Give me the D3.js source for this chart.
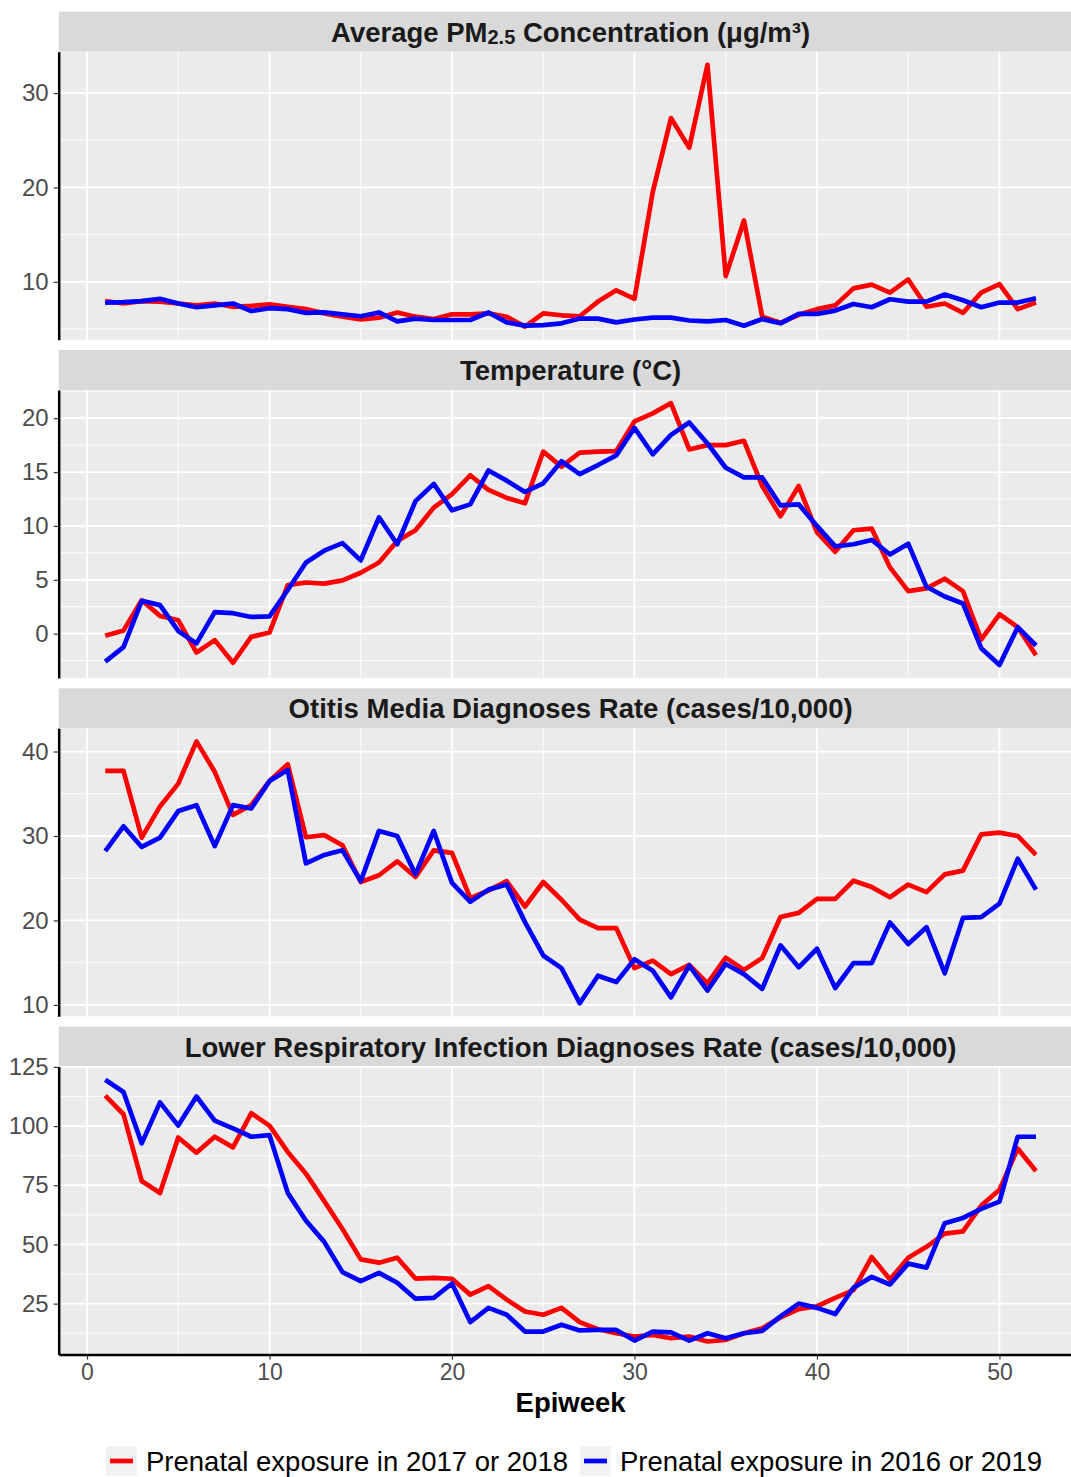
<!DOCTYPE html>
<html>
<head>
<meta charset="utf-8">
<script src="https://cdn.jsdelivr.net/npm/d3@7"></script>
<style>
  body { margin: 0; background: #fff; }
  text { font-family: "Liberation Sans", Arial, sans-serif; }
</style>
</head>
<body>
<div id="chart"></div>
<script>
// ---- data ----------------------------------------------------------------
const weeks = [1, 2, 3, 4, 5, 6, 7, 8, 9, 10, 11, 12, 13, 14, 15, 16, 17, 18, 19, 20,
  21, 22, 23, 24, 25, 26, 27, 28, 29, 30, 31, 32, 33, 34, 35, 36, 37, 38, 39, 40,
  41, 42, 43, 44, 45, 46, 47, 48, 49, 50, 51, 52];

const seriesNames = ["Prenatal exposure in 2017 or 2018", "Prenatal exposure in 2016 or 2019"];

const pm25Red = [7.95, 7.7, 7.95, 7.9, 7.7, 7.5, 7.7, 7.35, 7.45, 7.6,
  7.35, 7.1, 6.65, 6.3, 6.0, 6.2, 6.75, 6.3, 6.05, 6.55,
  6.55, 6.65, 6.3, 5.25, 6.65, 6.45, 6.35, 7.9, 9.1, 8.2,
  19.5, 27.35, 24.2, 33.0, 10.6, 16.5, 6.3, 5.65, 6.5, 7.1,
  7.5, 9.3, 9.7, 8.85, 10.25, 7.35, 7.7, 6.7, 8.85, 9.75,
  7.1, 7.8];
const pm25Blue = [7.8, 7.85, 7.95, 8.2, 7.7, 7.3, 7.5, 7.7, 6.9, 7.2,
  7.1, 6.7, 6.75, 6.55, 6.35, 6.75, 5.8, 6.1, 5.95, 5.95,
  5.95, 6.75, 5.7, 5.35, 5.4, 5.6, 6.1, 6.1, 5.7, 6.0,
  6.2, 6.2, 5.9, 5.8, 5.95, 5.35, 6.05, 5.6, 6.6, 6.6,
  6.95, 7.65, 7.3, 8.15, 7.9, 7.9, 8.65, 8.05, 7.3, 7.8,
  7.8, 8.25];

const tempRed = [-0.2, 0.3, 3.1, 1.65, 1.25, -1.75, -0.6, -2.7, -0.3, 0.1,
  4.5, 4.75, 4.65, 4.95, 5.65, 6.6, 8.6, 9.6, 11.7, 12.95,
  14.7, 13.35, 12.6, 12.1, 16.9, 15.5, 16.8, 16.9, 16.95, 19.7,
  20.45, 21.4, 17.1, 17.5, 17.5, 17.9, 13.7, 10.9, 13.7, 9.4,
  7.6, 9.6, 9.75, 6.15, 3.95, 4.2, 5.1, 3.95, -0.55, 1.8,
  0.6, -2.0];
const tempBlue = [-2.6, -1.25, 3.05, 2.65, 0.25, -0.9, 2.0, 1.9, 1.55, 1.6,
  4.05, 6.6, 7.7, 8.4, 6.8, 10.8, 8.3, 12.3, 13.9, 11.45,
  12.0, 15.15, 14.2, 13.15, 13.95, 16.0, 14.8, 15.65, 16.55, 19.1,
  16.65, 18.45, 19.6, 17.65, 15.4, 14.5, 14.5, 11.9, 12.0, 10.0,
  8.1, 8.3, 8.7, 7.35, 8.35, 4.35, 3.45, 2.8, -1.35, -2.9,
  0.6, -1.1];

const otitisRed = [37.7, 37.7, 29.8, 33.5, 36.2, 41.2, 37.6, 32.5, 33.65, 36.5,
  38.5, 29.85, 30.1, 28.9, 24.55, 25.35, 27.0, 25.15, 28.3, 28.0,
  22.65, 23.55, 24.65, 21.65, 24.55, 22.45, 20.1, 19.1, 19.1, 14.35,
  15.25, 13.65, 14.75, 12.55, 15.6, 14.15, 15.55, 20.4, 20.9, 22.55,
  22.55, 24.7, 23.95, 22.75, 24.25, 23.35, 25.45, 25.9, 30.2, 30.4,
  30.0, 27.75];
const otitisBlue = [28.2, 31.15, 28.7, 29.8, 32.95, 33.65, 28.8, 33.65, 33.25, 36.5,
  37.8, 26.75, 27.75, 28.3, 24.65, 30.6, 30.0, 25.45, 30.6, 24.45,
  22.2, 23.65, 24.25, 19.8, 15.85, 14.35, 10.2, 13.45, 12.7, 15.4,
  14.05, 10.9, 14.65, 11.7, 14.85, 13.65, 11.9, 17.05, 14.45, 16.65,
  12.0, 14.95, 14.95, 19.75, 17.2, 19.2, 13.75, 20.3, 20.4, 22.0,
  27.3, 23.65];

const lriRed = [112.9, 105.0, 76.8, 71.7, 95.2, 88.8, 95.5, 91.0, 105.4, 100.2,
  89.1, 79.9, 68.3, 56.5, 43.7, 42.3, 44.4, 35.6, 35.9, 35.5,
  28.8, 32.4, 26.7, 21.7, 20.3, 23.2, 17.2, 14.2, 12.5, 11.1,
  11.8, 10.4, 11.1, 9.0, 9.7, 12.5, 14.6, 19.2, 22.7, 23.9,
  27.4, 30.7, 44.7, 35.2, 44.4, 49.0, 54.6, 55.5, 66.4, 73.1,
  90.5, 81.0];
const lriBlue = [119.6, 114.4, 92.7, 110.0, 100.2, 112.5, 102.3, 99.0, 95.5, 96.2,
  71.8, 60.0, 51.1, 38.3, 34.5, 38.0, 33.8, 27.1, 27.4, 33.5,
  17.2, 23.2, 20.3, 13.2, 13.2, 16.1, 13.7, 13.9, 13.9, 9.4,
  13.2, 12.9, 9.4, 12.5, 10.4, 12.5, 13.5, 19.6, 25.0, 23.2,
  20.6, 31.7, 36.3, 33.1, 41.9, 40.2, 59.0, 61.2, 65.0, 68.1,
  95.5, 95.5];

const pm25Ticks = [10, 20, 30];
const tempTicks = [0, 5, 10, 15, 20];
const otitisTicks = [10, 20, 30, 40];
const lriTicks = [25, 50, 75, 100, 125];
const weekTicks = [0, 10, 20, 30, 40, 50];

const panels = [
  {title: "pm", red: pm25Red, blue: pm25Blue, ticks: pm25Ticks},
  {title: "Temperature (°C)", red: tempRed, blue: tempBlue, ticks: tempTicks},
  {title: "Otitis Media Diagnoses Rate (cases/10,000)", red: otitisRed, blue: otitisBlue, ticks: otitisTicks},
  {title: "Lower Respiratory Infection Diagnoses Rate (cases/10,000)", red: lriRed, blue: lriBlue, ticks: lriTicks}
];

// ---- layout ----------------------------------------------------------------
const width = 1071, height = 1477;
const plotLeft = 58.7, plotRight = 1082.5;   // source image is cropped at the right
const firstStrip = 11.7, stripH = 40, plotH = 288, pitch = 338.3;
const colors = ["#ff0000", "#0000ff"];

const svg = d3.select("#chart").append("svg")
  .attr("width", width)
  .attr("height", height);

// ggplot style 5% expansion
function expand(ext) {
  const pad = (ext[1] - ext[0]) * 0.05;
  return [ext[0] - pad, ext[1] + pad];
}

const x = d3.scaleLinear()
  .domain(expand(d3.extent(weeks)))
  .range([plotLeft, plotRight]);

const line = (y) => d3.line()
  .x((d, i) => x(weeks[i]))
  .y(d => y(d));

panels.forEach((p, k) => {
  const top = firstStrip + k * pitch;
  const pTop = top + stripH, pBot = pTop + plotH;

  const y = d3.scaleLinear()
    .domain(expand(d3.extent(p.red.concat(p.blue))))
    .range([pBot, pTop]);

  const g = svg.append("g");

  // strip
  g.append("rect")
    .attr("x", plotLeft).attr("y", top)
    .attr("width", plotRight - plotLeft).attr("height", stripH)
    .attr("fill", "#d9d9d9");

  const st = g.append("text")
    .attr("x", (plotLeft + plotRight) / 2)
    .attr("y", top + stripH / 2)
    .attr("dy", "0.36em")
    .attr("text-anchor", "middle")
    .attr("font-size", 27.5)
    .attr("font-weight", "bold")
    .attr("fill", "#1a1a1a");
  if (p.title === "pm") {
    st.append("tspan").text("Average PM");
    st.append("tspan").attr("font-size", 20).attr("dy", 2).text("2.5");
    st.append("tspan").attr("dy", -2).text(" Concentration (μg/m³)");
  } else {
    st.text(p.title);
  }

  // panel background
  g.append("rect")
    .attr("x", plotLeft).attr("y", pTop)
    .attr("width", plotRight - plotLeft).attr("height", plotH)
    .attr("fill", "#ebebeb");

  // minor grid
  const step = p.ticks[1] - p.ticks[0];
  const dom = y.domain();
  const minorY = [];
  for (let v = p.ticks[0] - step / 2; v <= dom[1]; v += step) if (v >= dom[0]) minorY.push(v);
  const minorX = weekTicks.map(t => t + 5).filter(v => v <= x.domain()[1]);

  g.append("g").selectAll("line")
    .data(minorY)
    .join("line")
      .attr("x1", plotLeft).attr("x2", plotRight)
      .attr("y1", d => y(d)).attr("y2", d => y(d))
      .attr("stroke", "#fff").attr("stroke-width", 0.9);
  g.append("g").selectAll("line")
    .data(minorX)
    .join("line")
      .attr("x1", d => x(d)).attr("x2", d => x(d))
      .attr("y1", pTop).attr("y2", pBot)
      .attr("stroke", "#fff").attr("stroke-width", 0.9);

  // major grid
  g.append("g").selectAll("line")
    .data(p.ticks)
    .join("line")
      .attr("x1", plotLeft).attr("x2", plotRight)
      .attr("y1", d => y(d)).attr("y2", d => y(d))
      .attr("stroke", "#fff").attr("stroke-width", 1.8);
  g.append("g").selectAll("line")
    .data(weekTicks)
    .join("line")
      .attr("x1", d => x(d)).attr("x2", d => x(d))
      .attr("y1", pTop).attr("y2", pBot)
      .attr("stroke", "#fff").attr("stroke-width", 1.8);

  // lines: red first, blue on top
  g.append("g")
    .attr("fill", "none")
    .attr("stroke-width", 4.7)
    .attr("stroke-linejoin", "round")
    .selectAll("path")
    .data([p.red, p.blue])
    .join("path")
      .attr("stroke", (d, i) => colors[i])
      .attr("d", d => line(y)(d));

  // y axis
  const ya = g.append("g")
    .attr("transform", `translate(${plotLeft},0)`)
    .call(d3.axisLeft(y).tickValues(p.ticks).tickSize(5).tickSizeOuter(0).tickPadding(5));
  ya.select(".domain").attr("stroke", "#000").attr("stroke-width", 2.5);
  ya.selectAll(".tick line").attr("stroke", "#333").attr("stroke-width", 1.2);
  ya.selectAll(".tick text")
    .attr("font-size", 24)
    .attr("font-family", "Liberation Sans, Arial, sans-serif")
    .attr("fill", "#4d4d4d");

  // x axis only under the last panel
  if (k === panels.length - 1) {
    const xa = g.append("g")
      .attr("transform", `translate(0,${pBot})`)
      .call(d3.axisBottom(x).tickValues(weekTicks).tickSize(5).tickSizeOuter(0).tickPadding(4));
    xa.select(".domain").attr("stroke", "#000").attr("stroke-width", 2.5);
    xa.selectAll(".tick line").attr("stroke", "#333").attr("stroke-width", 1.2);
    xa.selectAll(".tick text")
      .attr("font-size", 23)
      .attr("font-family", "Liberation Sans, Arial, sans-serif")
      .attr("fill", "#4d4d4d");

    svg.append("text")
      .attr("x", (plotLeft + plotRight) / 2)
      .attr("y", pBot + 57)
      .attr("text-anchor", "middle")
      .attr("font-size", 27.5)
      .attr("font-weight", "bold")
      .attr("fill", "#000")
      .text("Epiweek");
  }
});

// legend
const legendY = 1461;
const keyX = [106, 580];
const leg = svg.append("g").selectAll("g")
  .data(seriesNames)
  .join("g")
    .attr("transform", (d, i) => `translate(${keyX[i]},${legendY})`);
leg.append("rect")
  .attr("x", 0).attr("y", -15).attr("width", 31).attr("height", 30)
  .attr("fill", "#f2f2f2");
leg.append("line")
  .attr("x1", 4).attr("x2", 27)
  .attr("stroke", (d, i) => colors[i])
  .attr("stroke-width", 4.7);
leg.append("text")
  .attr("x", 40)
  .attr("dy", "0.36em")
  .attr("font-size", 27.5)
  .attr("fill", "#000")
  .text(d => d);
</script>
</body>
</html>
